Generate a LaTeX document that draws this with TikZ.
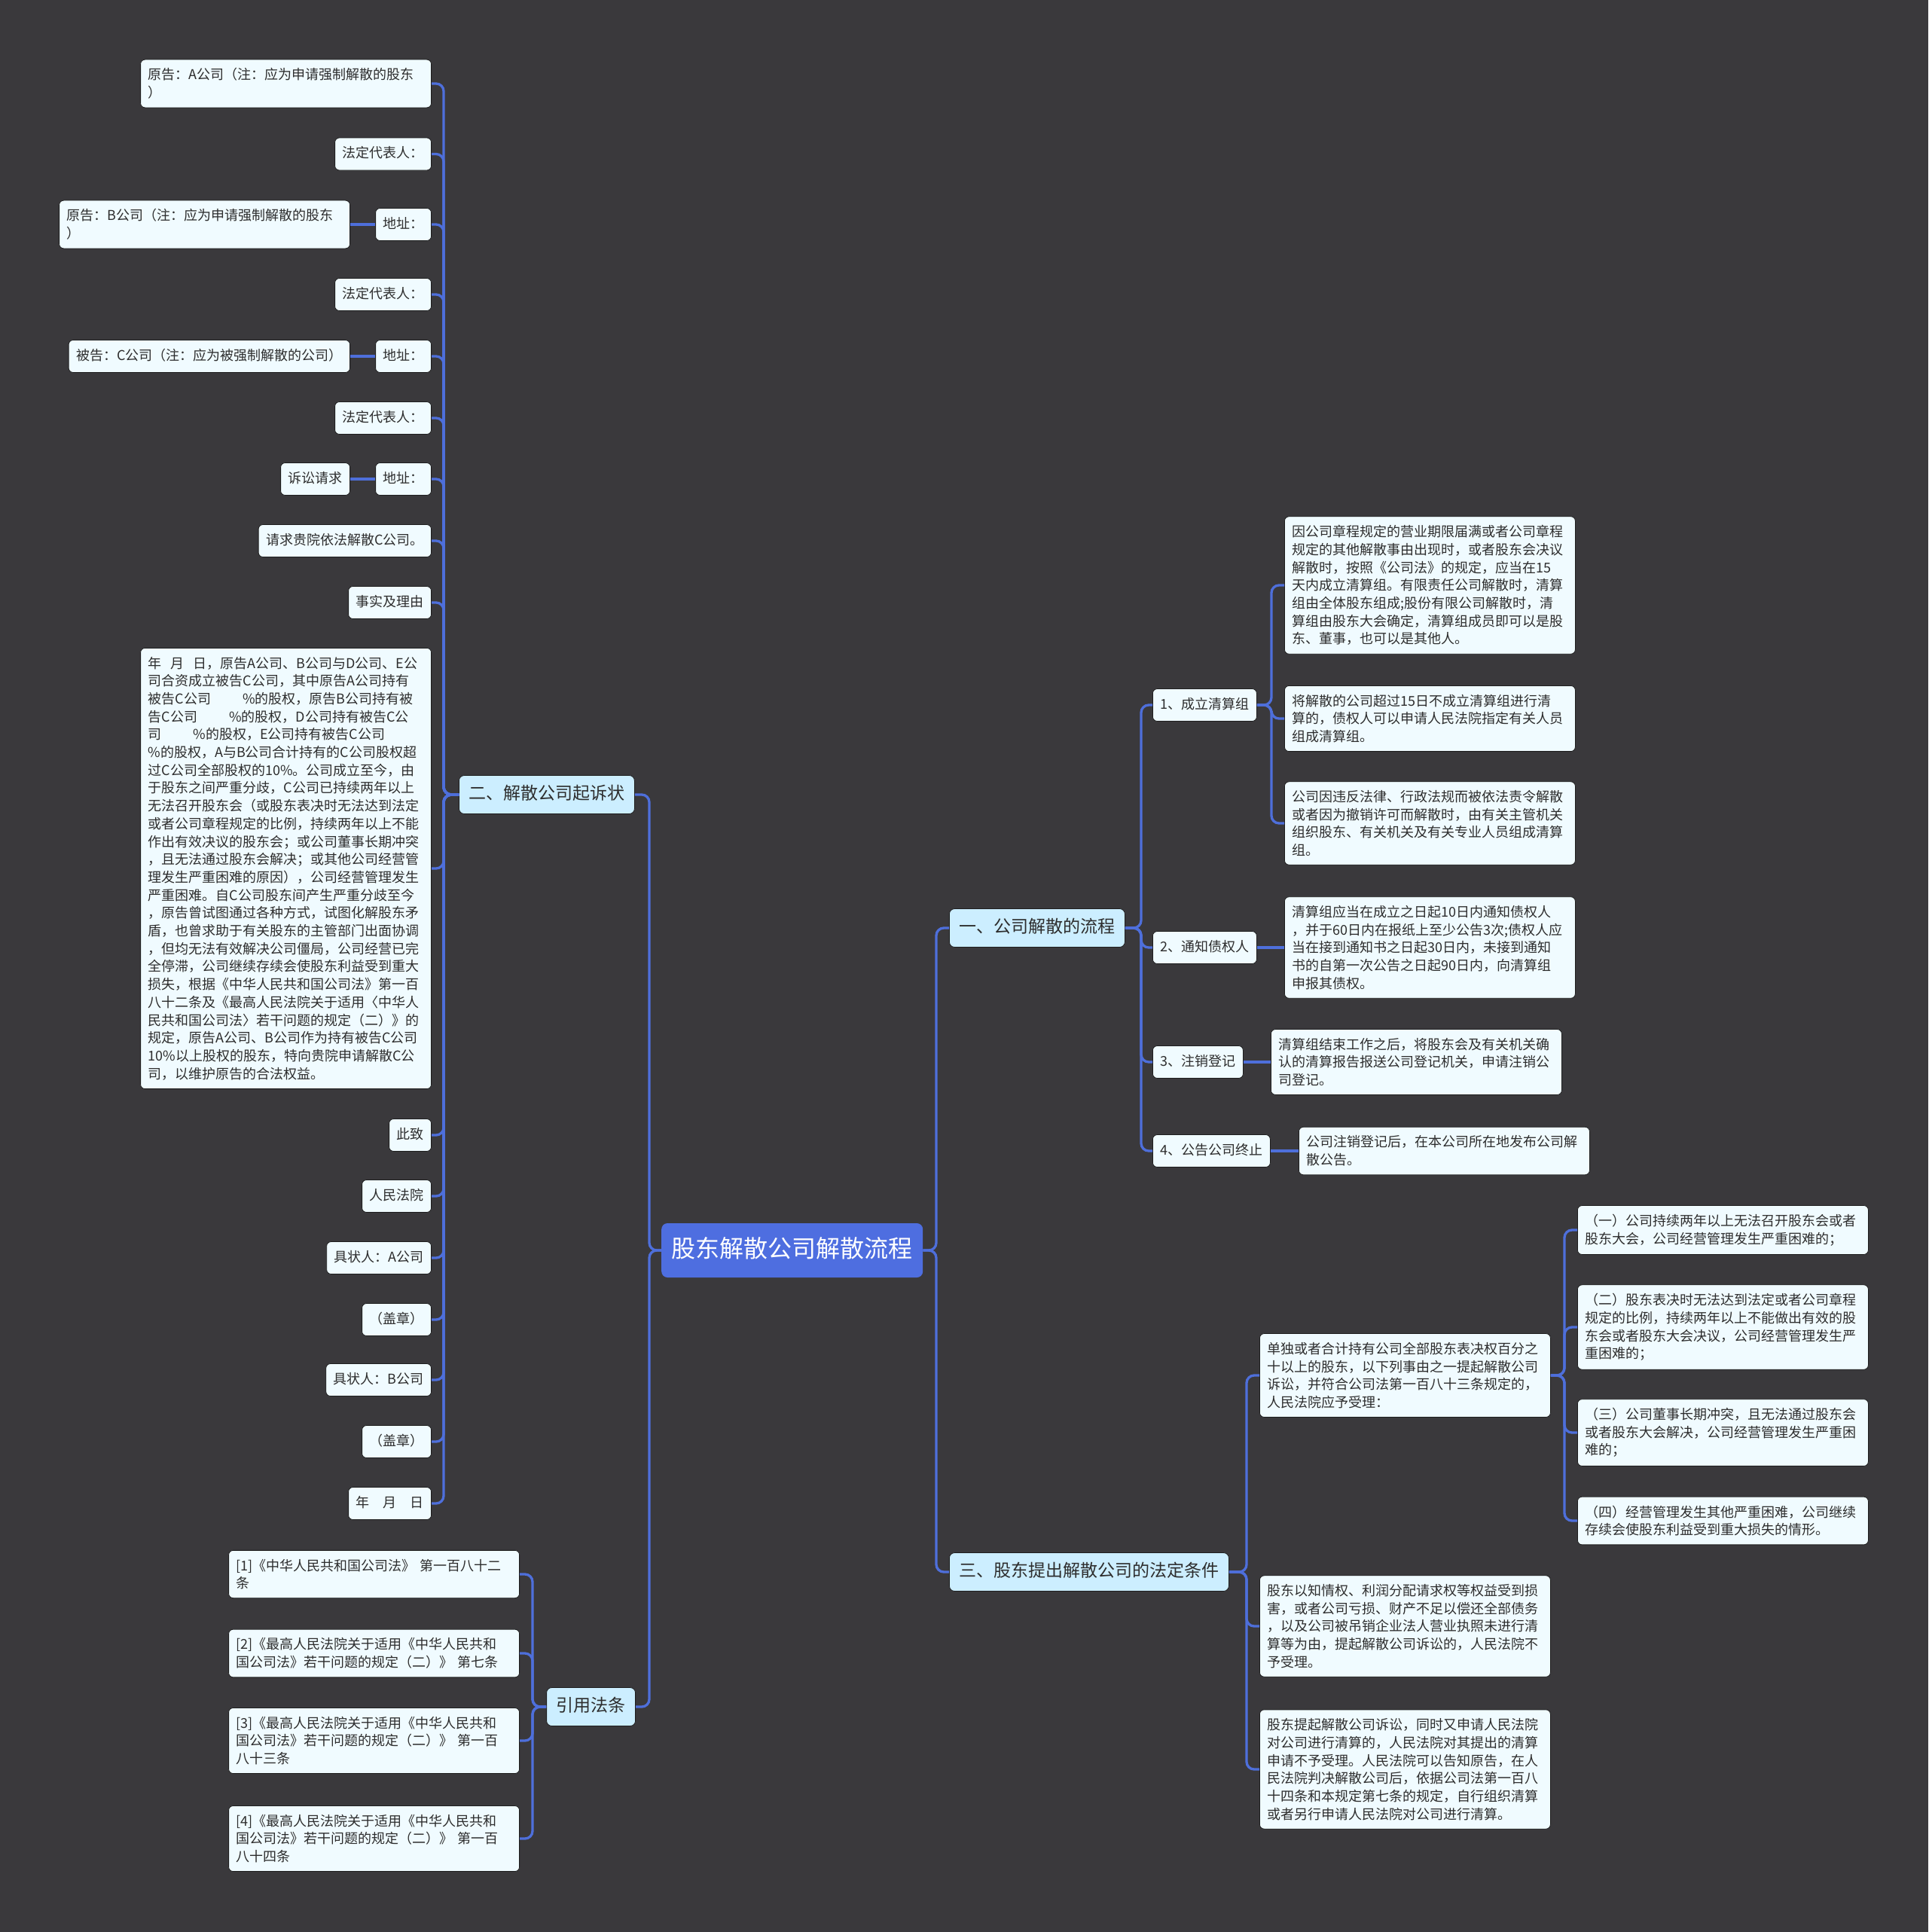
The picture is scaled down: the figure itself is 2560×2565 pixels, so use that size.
\documentclass[tikz,border=0pt]{standalone}
\usepackage{fontspec}
\setmainfont{Noto Sans CJK SC}
\definecolor{bgc}{RGB}{58,57,60}
\definecolor{linec}{RGB}{78,111,219}
\definecolor{leafc}{RGB}{240,251,255}
\definecolor{lvlc}{RGB}{204,238,255}
\definecolor{rootc}{RGB}{78,110,224}
\definecolor{txtc}{RGB}{45,45,45}
\definecolor{edgec}{RGB}{30,30,30}
\tikzset{
  leafbase/.style={draw=edgec, line width=0.8pt, fill=leafc, rounded corners=6pt,
    inner xsep=10pt, inner ysep=11.5pt, text=txtc, font=\fontsize{18}{23.7}\selectfont},
  sm/.style={leafbase, text height=15pt, text depth=5pt},
  wide/.style={leafbase, text width=366pt, align=left},
  lvl/.style={draw=edgec, line width=0.8pt, fill=lvlc, rounded corners=7pt, inner xsep=13pt,
    inner ysep=13pt, text height=19pt, text depth=6pt, text=txtc, font=\fontsize{23}{28}\selectfont},
  rootn/.style={fill=rootc, rounded corners=8pt, inner xsep=13.5pt, inner ysep=18.5pt,
    text height=27pt, text depth=8pt, text=white, font=\fontsize{32}{38}\selectfont},
  conn/.style={draw=linec, line width=3.3pt, rounded corners=10pt},
}
\begin{document}
\begin{tikzpicture}[x=1pt,y=-1pt]
\fill[bgc] (0,0) rectangle (2560,2565);
\useasboundingbox (0,0) rectangle (2560,2565);

% trunk coordinates
\coordinate (tL) at (589,0);
\coordinate (tA) at (862,0);
\coordinate (tR) at (1243,0);
\coordinate (tF) at (707,0);
\coordinate (t1) at (1515,0);
\coordinate (t11) at (1688,0);
\coordinate (t3) at (1655,0);
\coordinate (t31) at (2077,0);

% root
\node[rootn, anchor=west] (root) at (878,1660) {股东解散公司解散流程};

% level 1
\node[lvl, anchor=west] (er) at (609,1055) {二、解散公司起诉状};
\node[lvl, anchor=east] (yy) at (844,2266) {引用法条};
\node[lvl, anchor=west] (yi) at (1260,1232) {一、公司解散的流程};
\node[lvl, anchor=west] (san) at (1260,2087) {三、股东提出解散公司的法定条件};

% left: 起诉状 children
\node[wide, anchor=east] (pA) at (573,111) {原告：A公司（注：应为申请强制解散的股东\\）};
\node[sm, anchor=east] (fd1) at (573,204.5) {法定代表人：};
\node[sm, anchor=east] (dz1) at (573,298) {地址：};
\node[wide, anchor=east] (pB) at (465,298) {原告：B公司（注：应为申请强制解散的股东\\）};
\node[sm, anchor=east] (fd2) at (573,391) {法定代表人：};
\node[sm, anchor=east] (dz2) at (573,473) {地址：};
\node[sm, anchor=east] (dC) at (465,473) {被告：C公司（注：应为被强制解散的公司）};
\node[sm, anchor=east] (fd3) at (573,555) {法定代表人：};
\node[sm, anchor=east] (dz3) at (573,636) {地址：};
\node[sm, anchor=east] (ss) at (465,636) {诉讼请求};
\node[sm, anchor=east] (qq) at (573,718) {请求贵院依法解散C公司。};
\node[sm, anchor=east] (sy) at (573,800) {事实及理由};
\node[wide, anchor=east] (big) at (573,1153) {年\kern12pt月\kern12pt日，原告A公司、B公司与D公司、E公\\
司合资成立被告C公司，其中原告A公司持有\\
被告C公司\kern42pt\%的股权，原告B公司持有被\\
告C公司\kern42pt\%的股权，D公司持有被告C公\\
司\kern42pt\%的股权，E公司持有被告C公司\\
\%的股权，A与B公司合计持有的C公司股权超\\
过C公司全部股权的10\%。公司成立至今，由\\
于股东之间严重分歧，C公司已持续两年以上\\
无法召开股东会（或股东表决时无法达到法定\\
或者公司章程规定的比例，持续两年以上不能\\
作出有效决议的股东会；或公司董事长期冲突\\
，且无法通过股东会解决；或其他公司经营管\\
理发生严重困难的原因），公司经营管理发生\\
严重困难。自C公司股东间产生严重分歧至今\\
，原告曾试图通过各种方式，试图化解股东矛\\
盾，也曾求助于有关股东的主管部门出面协调\\
，但均无法有效解决公司僵局，公司经营已完\\
全停滞，公司继续存续会使股东利益受到重大\\
损失，根据《中华人民共和国公司法》第一百\\
八十二条及《最高人民法院关于适用〈中华人\\
民共和国公司法〉若干问题的规定（二）》的\\
规定，原告A公司、B公司作为持有被告C公司\\
10\%以上股权的股东，特向贵院申请解散C公\\
司，以维护原告的合法权益。};
\node[sm, anchor=east] (cz) at (573,1507) {此致};
\node[sm, anchor=east] (rm) at (573,1588) {人民法院};
\node[sm, anchor=east] (jA) at (573,1670) {具状人：A公司};
\node[sm, anchor=east] (gz1) at (573,1752) {（盖章）};
\node[sm, anchor=east] (jB) at (573,1832) {具状人：B公司};
\node[sm, anchor=east] (gz2) at (573,1914) {（盖章）};
\node[sm, anchor=east] (nyr) at (573,1996) {年\kern18pt月\kern18pt日};

% left: references
\node[wide, anchor=east] (r1) at (690,2090) {[1]《中华人民共和国公司法》~第一百八十二\\条};
\node[wide, anchor=east] (r2) at (690,2195) {[2]《最高人民法院关于适用《中华人民共和\\国公司法》若干问题的规定（二）》~第七条};
\node[wide, anchor=east] (r3) at (690,2311) {[3]《最高人民法院关于适用《中华人民共和\\国公司法》若干问题的规定（二）》~第一百\\八十三条};
\node[wide, anchor=east] (r4) at (690,2441) {[4]《最高人民法院关于适用《中华人民共和\\国公司法》若干问题的规定（二）》~第一百\\八十四条};

% right: 一 children
\node[sm, anchor=west] (s1) at (1530,936) {1、成立清算组};
\node[sm, anchor=west] (s2) at (1530,1258) {2、通知债权人};
\node[sm, anchor=west] (s3) at (1530,1410) {3、注销登记};
\node[sm, anchor=west] (s4) at (1530,1528) {4、公告公司终止};

\node[wide, anchor=west] (a1) at (1705,777) {因公司章程规定的营业期限届满或者公司章程\\
规定的其他解散事由出现时，或者股东会决议\\
解散时，按照《公司法》的规定，应当在15\\
天内成立清算组。有限责任公司解散时，清算\\
组由全体股东组成;股份有限公司解散时，清\\
算组由股东大会确定，清算组成员即可以是股\\
东、董事，也可以是其他人。};
\node[wide, anchor=west] (a2) at (1705,954) {将解散的公司超过15日不成立清算组进行清\\
算的，债权人可以申请人民法院指定有关人员\\
组成清算组。};
\node[wide, anchor=west] (a3) at (1705,1093) {公司因违反法律、行政法规而被依法责令解散\\
或者因为撤销许可而解散时，由有关主管机关\\
组织股东、有关机关及有关专业人员组成清算\\
组。};
\node[wide, anchor=west] (b1) at (1705,1258) {清算组应当在成立之日起10日内通知债权人\\
，并于60日内在报纸上至少公告3次;债权人应\\
当在接到通知书之日起30日内，未接到通知\\
书的自第一次公告之日起90日内，向清算组\\
申报其债权。};
\node[wide, anchor=west] (c1) at (1687,1410) {清算组结束工作之后，将股东会及有关机关确\\
认的清算报告报送公司登记机关，申请注销公\\
司登记。};
\node[wide, anchor=west] (e1) at (1724,1528) {公司注销登记后，在本公司所在地发布公司解\\
散公告。};

% right: 三 children
\node[wide, anchor=west] (d1) at (1672,1826) {单独或者合计持有公司全部股东表决权百分之\\
十以上的股东，以下列事由之一提起解散公司\\
诉讼，并符合公司法第一百八十三条规定的，\\
人民法院应予受理：};
\node[wide, anchor=west] (d2) at (1672,2159) {股东以知情权、利润分配请求权等权益受到损\\
害，或者公司亏损、财产不足以偿还全部债务\\
，以及公司被吊销企业法人营业执照未进行清\\
算等为由，提起解散公司诉讼的，人民法院不\\
予受理。};
\node[wide, anchor=west] (d3) at (1672,2349) {股东提起解散公司诉讼，同时又申请人民法院\\
对公司进行清算的，人民法院对其提出的清算\\
申请不予受理。人民法院可以告知原告，在人\\
民法院判决解散公司后，依据公司法第一百八\\
十四条和本规定第七条的规定，自行组织清算\\
或者另行申请人民法院对公司进行清算。};

\node[wide, anchor=west] (q1) at (2094,1633) {（一）公司持续两年以上无法召开股东会或者\\
股东大会，公司经营管理发生严重困难的；};
\node[wide, anchor=west] (q2) at (2094,1762) {（二）股东表决时无法达到法定或者公司章程\\
规定的比例，持续两年以上不能做出有效的股\\
东会或者股东大会决议，公司经营管理发生严\\
重困难的；};
\node[wide, anchor=west] (q3) at (2094,1902) {（三）公司董事长期冲突，且无法通过股东会\\
或者股东大会解决，公司经营管理发生严重困\\
难的；};
\node[wide, anchor=west] (q4) at (2094,2019) {（四）经营管理发生其他严重困难，公司继续\\
存续会使股东利益受到重大损失的情形。};

% connectors: root
\draw[conn] (root.west) -- (root.west -| tA) |- (er.east);
\draw[conn] (root.west) -- (root.west -| tA) |- (yy.east);
\draw[conn] (root.east) -- (root.east -| tR) |- (yi.west);
\draw[conn] (root.east) -- (root.east -| tR) |- (san.west);

% 起诉状 children
\foreach \c in {pA,fd1,dz1,fd2,dz2,fd3,dz3,qq,sy,big,cz,rm,jA,gz1,jB,gz2,nyr}
  \draw[conn] (er.west) -- (er.west -| tL) |- (\c.east);
\draw[conn] (dz1.west) -- (pB.east);
\draw[conn] (dz2.west) -- (dC.east);
\draw[conn] (dz3.west) -- (ss.east);

% references
\foreach \c in {r1,r2,r3,r4}
  \draw[conn] (yy.west) -- (yy.west -| tF) |- (\c.east);

% 一 children
\foreach \c in {s1,s2,s3,s4}
  \draw[conn] (yi.east) -- (yi.east -| t1) |- (\c.west);
\foreach \c in {a1,a2,a3}
  \draw[conn] (s1.east) -- (s1.east -| t11) |- (\c.west);
\draw[conn] (s2.east) -- (b1.west);
\draw[conn] (s3.east) -- (c1.west);
\draw[conn] (s4.east) -- (e1.west);

% 三 children
\foreach \c in {d1,d2,d3}
  \draw[conn] (san.east) -- (san.east -| t3) |- (\c.west);
\foreach \c in {q1,q2,q3,q4}
  \draw[conn] (d1.east) -- (d1.east -| t31) |- (\c.west);
\end{tikzpicture}
\end{document}
